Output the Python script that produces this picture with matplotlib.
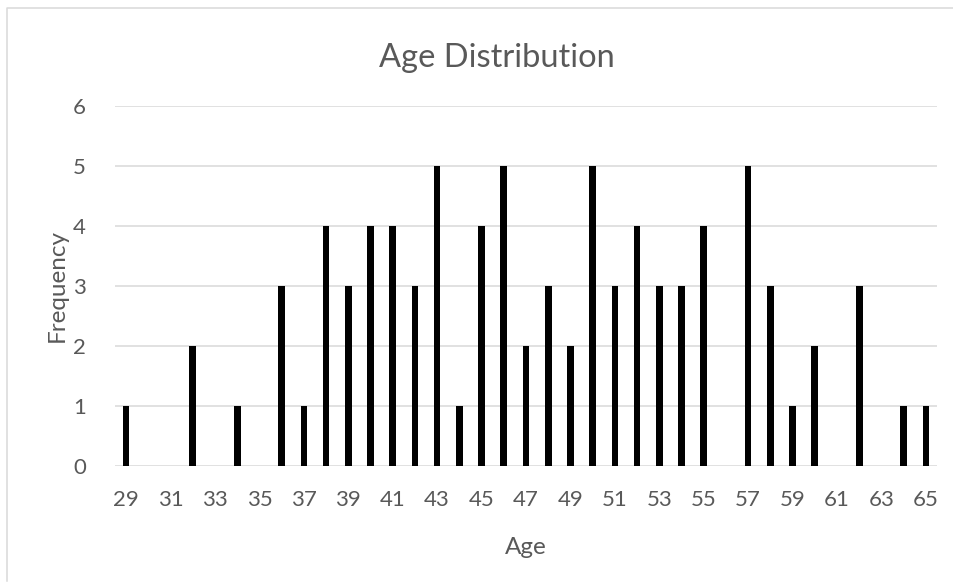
import numpy as np
import matplotlib
matplotlib.use('Agg')
from matplotlib import pyplot as plt
from matplotlib.lines import Line2D

# age -> number of people with that age
ages = list(range(29, 66))
freq = [1, 0, 0, 2, 0, 1, 0, 3, 1, 4,
        3, 4, 4, 3, 5, 1, 4, 5, 2, 3,
        2, 5, 3, 4, 3, 3, 4, 0, 5, 3,
        1, 2, 0, 3, 0, 1, 1]
tick_ages = ages[::2]
y_ticks = [0, 1, 2, 3, 4, 5, 6]

text_color = '#595959'
grid_color = '#d9d9d9'

plt.rcParams['font.family'] = ['Lato', 'DejaVu Sans']

W, H = 954, 583
fig = plt.figure(figsize=(W / 100, H / 100), dpi=100)
ax = fig.add_axes([115 / W, 1 - 466 / H, 822 / W, 360 / H])

ax.bar(ages, freq, width=0.3, color='black', zorder=3)

ax.set_xlim(ages[0] - 0.5, ages[-1] + 0.5)
ax.set_ylim(0, 6)
ax.set_xticks(tick_ages)
ax.set_yticks(y_ticks)
ax.tick_params(axis='both', length=0, labelsize=16, labelcolor=text_color)
ax.tick_params(axis='x', pad=17)
ax.tick_params(axis='y', pad=21)
ax.grid(axis='y', color=grid_color, linewidth=1.1, zorder=0)
for s in ax.spines.values():
    s.set_visible(False)

ax.set_xlabel('Age', fontsize=17.5, color=text_color, labelpad=20)
ax.set_ylabel('Frequency', fontsize=17.5, color=text_color, labelpad=4)
fig.text(497 / W, 1 - 58 / H, 'Age Distribution', fontsize=23.5,
         color=text_color, ha='center', va='center')

# chart area border (left and top edges, right side runs off the canvas)
border = Line2D([7 / W, 7 / W, 1.01], [1 - 581 / H, 1 - 8 / H, 1 - 8 / H],
                transform=fig.transFigure, color=grid_color, linewidth=1.1)
fig.add_artist(border)

fig.savefig('out.png', dpi=100)
